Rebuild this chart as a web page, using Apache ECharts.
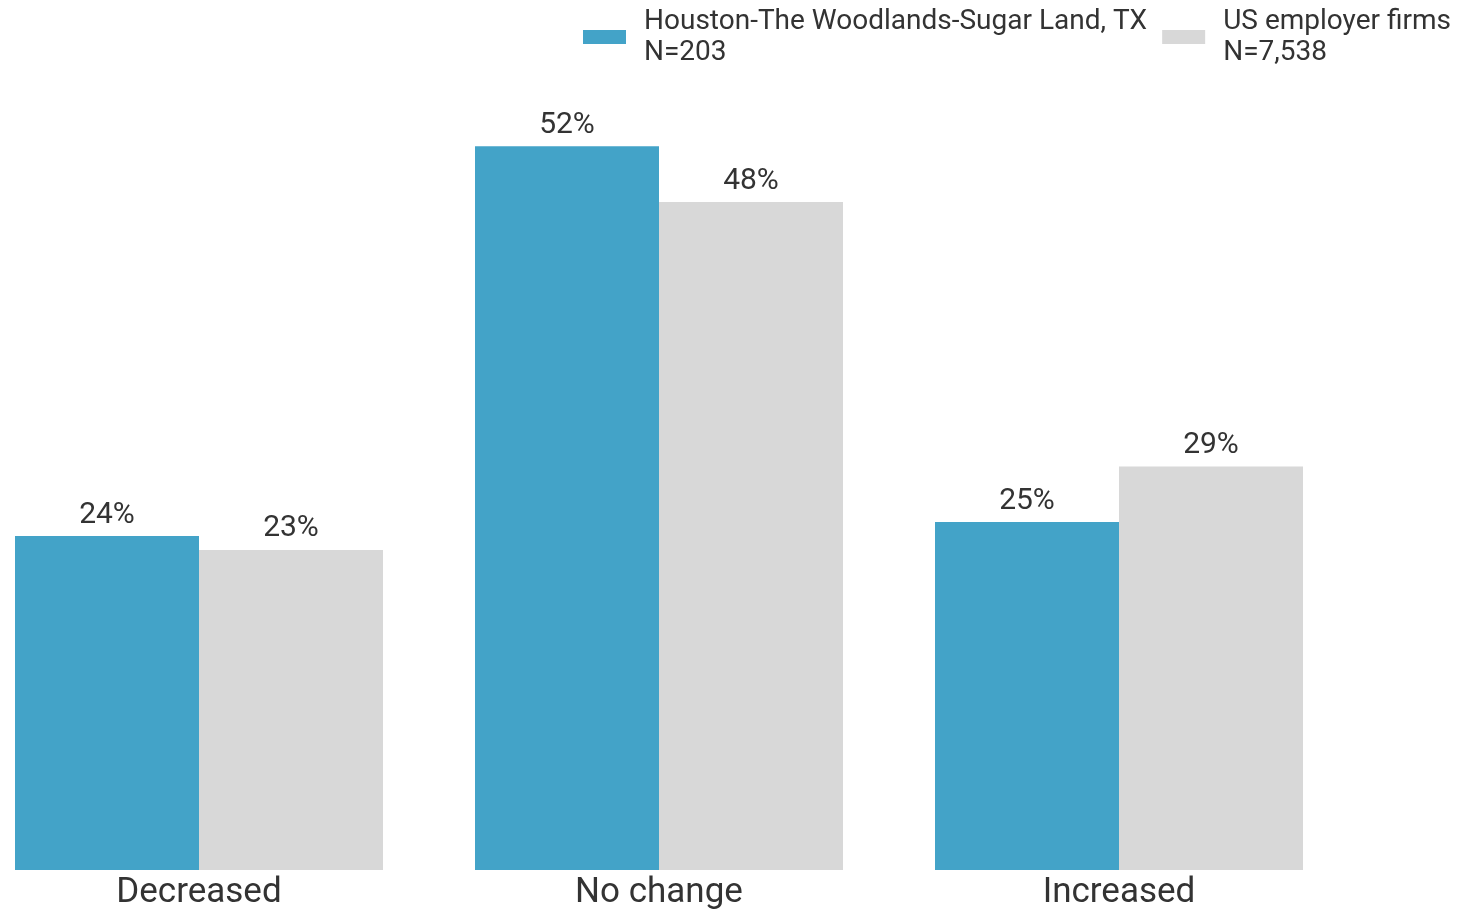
<!DOCTYPE html>
<html>
<head>
<meta charset="utf-8">
<script src="https://cdn.jsdelivr.net/npm/echarts@6/dist/echarts.min.js"></script>
<style>
html,body{margin:0;padding:0;background:#fff;overflow:hidden;}
#wrap{position:relative;width:1460px;height:912px;overflow:hidden;}
#chart{position:absolute;left:-31px;top:0;width:1491px;height:912px;}
</style>
</head>
<body>
<div id="wrap"><div id="chart"></div></div>
<script>
const categories = ['Decreased', 'No change', 'Increased'];
const seriesNames = ['Houston-The Woodlands-Sugar Land, TX\nN=203', 'US employer firms\nN=7,538'];
const houstonValues = [24, 52, 25];
const usValues = [23, 48, 29];
const colors = ['#43A3C8', '#D8D8D8'];

const chart = echarts.init(document.getElementById('chart'));
const labelCfg = {
  show: true,
  position: 'top',
  distance: 6,
  formatter: p => p.value + '%',
  fontFamily: 'Roboto',
  fontSize: 30,
  color: '#333333'
};
chart.setOption({
  animation: false,
  color: colors,
  legend: {
    left: 614,
    top: 6,
    width: 877,
    padding: 0,
    itemWidth: 43,
    itemHeight: 14,
    itemGap: 15,
    icon: 'rect',
    textStyle: {
      fontFamily: 'Roboto',
      fontSize: 28,
      color: '#333333',
      lineHeight: 31,
      padding: [0, 0, 0, 13]
    },
    data: seriesNames
  },
  grid: { left: 0, right: 111, top: 35, bottom: 42, containLabel: false },
  xAxis: {
    type: 'category',
    data: categories,
    axisLine: { show: false },
    axisTick: { show: false },
    axisLabel: {
      fontFamily: 'Roboto',
      fontSize: 35,
      color: '#333333',
      margin: 6
    }
  },
  yAxis: {
    type: 'value',
    min: 0,
    max: 60,
    show: false,
    splitLine: { show: false }
  },
  series: [
    {
      name: seriesNames[0],
      type: 'bar',
      data: houstonValues,
      barGap: '0%',
      barCategoryGap: '20%',
      label: labelCfg
    },
    {
      name: seriesNames[1],
      type: 'bar',
      data: usValues,
      barGap: '0%',
      barCategoryGap: '20%',
      label: labelCfg
    }
  ]
});
</script>
</body>
</html>
